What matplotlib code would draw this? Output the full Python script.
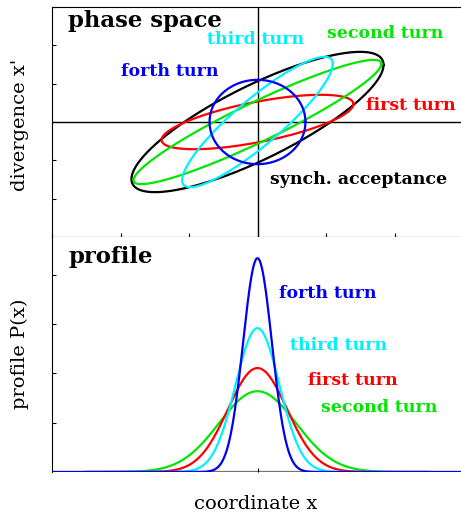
import numpy as np
import matplotlib
matplotlib.use("Agg")
import matplotlib.pyplot as plt

plt.rcParams['font.family'] = ['DejaVu Serif']

# phase-space ellipses: x = X cos t, x' = Y cos(t - d)
turns = ['synch. acceptance', 'first turn', 'second turn', 'third turn', 'forth turn']
colors = ['black', '#ff0000', '#00e600', '#00f0ff', '#0000f0']
ell_x = [1.84, 1.40, 1.81, 1.10, 0.70]
ell_y = [1.83, 0.71, 1.62, 1.70, 1.10]
ell_d = [0.62, 0.85, 0.36, 0.47, 1.571]

# beam profiles (peak height, rms width) per turn
prof_turns = ['second turn', 'first turn', 'third turn', 'forth turn']
prof_colors = ['#00e600', '#ff0000', '#00f0ff', '#0000f0']
prof_peak = [1.64, 2.11, 2.92, 4.34]
prof_sigma = [0.56, 0.43, 0.32, 0.21]

# label positions (data units)
ps_labels = {
    'third turn': (-0.74, 2.14), 'second turn': (1.02, 2.32),
    'forth turn': (-1.99, 1.33), 'first turn': (1.58, 0.44),
    'synch. acceptance': (0.18, -1.51),
}
pr_labels = {
    'forth turn': (0.32, 3.63), 'third turn': (0.48, 2.56),
    'first turn': (0.73, 1.85), 'second turn': (0.93, 1.30),
}

fig = plt.figure(figsize=(4.61, 5.15), dpi=100)
W, H = 461.0, 515.0
ax1 = fig.add_axes([52 / W, (H - 237) / H, 411 / W, 230 / H])
ax2 = fig.add_axes([52 / W, (H - 472) / H, 411 / W, 235 / H])

# --- phase space ---
t = np.linspace(0, 2 * np.pi, 400)
ax1.axhline(0, color='black', lw=1.0, zorder=1)
ax1.axvline(0, color='black', lw=1.0, zorder=1)
for name, c, X, Y, d in zip(turns, colors, ell_x, ell_y, ell_d):
    ax1.plot(X * np.cos(t), Y * np.cos(t - d), color=c, lw=1.6)
    lx, ly = ps_labels[name]
    ax1.text(lx, ly, name, color=c, fontsize=12.5, fontweight='bold',
             ha='left', va='center')
ax1.text(-2.76, 2.64, 'phase space', fontsize=16.4, fontweight='bold',
         ha='left', va='center')
ax1.set_xlim(-3, 3)
ax1.set_ylim(-3, 3)
ax1.set_xticks(range(-3, 4))
ax1.set_yticks(range(-3, 4))
ax1.tick_params(direction='in', length=3, labelbottom=False, labelleft=False)
ax1.spines['right'].set_visible(False)

# --- profile ---
xs = np.linspace(-3, 3, 800)
ax2.axhline(0, color='0.45', lw=1.6, zorder=1)
for name, c, p, s in zip(prof_turns, prof_colors, prof_peak, prof_sigma):
    lim = 3.0 if name == 'forth turn' else 2.5
    xx = xs[np.abs(xs) <= lim]
    ax2.plot(xx, p * np.exp(-0.5 * (xx / s) ** 2), color=c, lw=1.6)
    lx, ly = pr_labels[name]
    ax2.text(lx, ly, name, color=c, fontsize=12.5, fontweight='bold',
             ha='left', va='center')
ax2.text(-2.76, 4.36, 'profile', fontsize=16.4, fontweight='bold',
         ha='left', va='center')
ax2.set_xlim(-3, 3)
ax2.set_ylim(0, 4.77)
ax2.set_xticks([0])
ax2.set_yticks([1, 2, 3, 4])
ax2.tick_params(direction='in', length=3, labelbottom=False, labelleft=False)
for side in ['right', 'bottom', 'top']:
    ax2.spines[side].set_visible(False)

# axis titles
fig.text(20 / W, 1 - 125 / H, "divergence x'", fontsize=14, rotation=90,
         ha='center', va='center')
fig.text(20 / W, 1 - 354 / H, 'profile P(x)', fontsize=14, rotation=90,
         ha='center', va='center')
fig.text(256 / W, 1 - 504 / H, 'coordinate x', fontsize=14,
         ha='center', va='center')

plt.savefig('out.png', dpi=100)
